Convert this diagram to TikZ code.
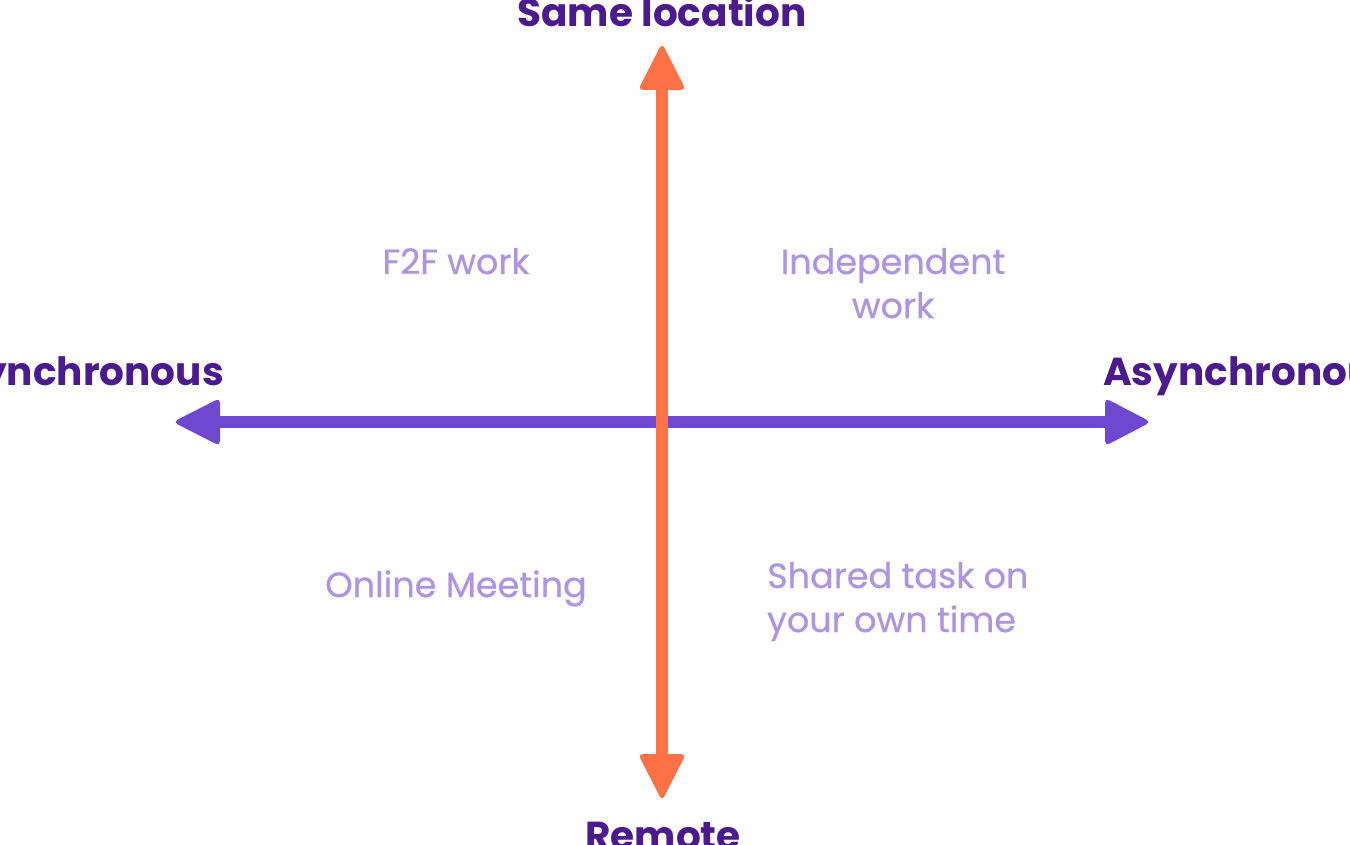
\documentclass[tikz,border=0pt]{standalone}
\usepackage{fontspec}
\setmainfont{Poppins}
\newfontfamily\labelfont[FakeBold=0.6]{Poppins}
\definecolor{axisorange}{HTML}{FF7247}
\definecolor{axispurple}{HTML}{6E48CE}
\definecolor{headpurple}{HTML}{4B1A8E}
\definecolor{labelpurple}{HTML}{AD95E2}
\tikzset{
  heading/.style={font=\fontsize{39}{44}\selectfont\bfseries, text=headpurple, inner sep=0pt},
  quadlabel/.style={font=\labelfont\fontsize{35}{44}\selectfont, text=labelpurple, inner sep=0pt},
  shaft/.style={line width=12pt, line cap=butt},
  tiphead/.style={rounded corners=5pt},
}
\begin{document}
\begin{tikzpicture}[x=1pt,y=-1pt]
\clip (0,0) rectangle (1350,845);
\fill[white] (0,0) rectangle (1350,845);
% horizontal axis
\coordinate (hl) at (215,422);
\coordinate (hr) at (1110,422);
\draw[shaft, axispurple] (hl) -- (hr);
\fill[axispurple, tiphead] (173,422) -- (220,398) -- (220,446) -- cycle;
\fill[axispurple, tiphead] (1151,422) -- (1105,398) -- (1105,446) -- cycle;
% vertical axis
\coordinate (vt) at (662,85);
\coordinate (vb) at (662,760);
\draw[shaft, axisorange] (vt) -- (vb);
\fill[axisorange, tiphead] (662,43) -- (638,90) -- (686,90) -- cycle;
\fill[axisorange, tiphead] (662,801) -- (638,754) -- (686,754) -- cycle;
% headings
\node[heading, anchor=base] (same) at (662,27) {Same location};
\node[heading, anchor=base] (remote) at (663,849) {Remote};
\node[heading, anchor=base east] (sync) at (224,385) {Synchronous};
\node[heading, anchor=base west] (async) at (1103,385) {Asynchronous};
% quadrant labels
\node[quadlabel, anchor=base] (f2f) at (456,274) {F2F work};
\node[quadlabel, anchor=base, align=center] (indep) at (893,318) {Independent\\work};
\node[quadlabel, anchor=base] (online) at (456,597) {Online Meeting};
\node[quadlabel, anchor=base west, align=left] (shared) at (767,632) {Shared task on\\your own time};
\end{tikzpicture}
\end{document}
